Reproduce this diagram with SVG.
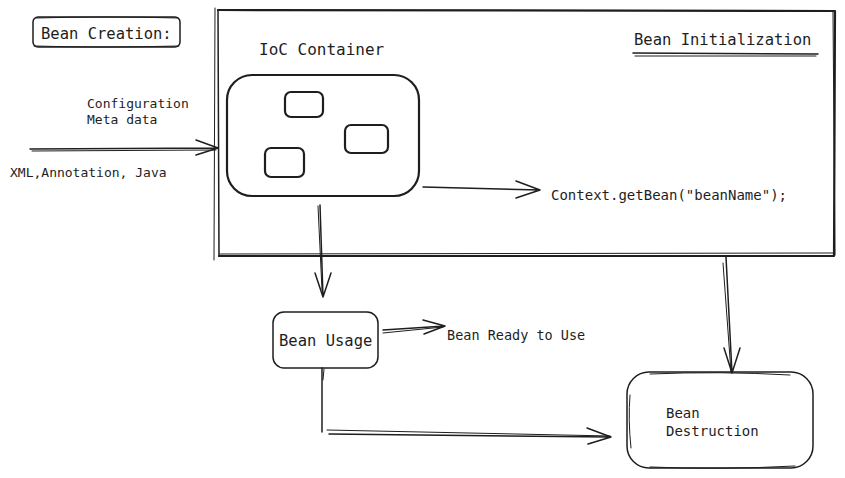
<svg xmlns="http://www.w3.org/2000/svg" width="845" height="478" viewBox="0 0 845 478">
<style>
.t{font-family:"DejaVu Sans Mono","Liberation Mono",monospace;fill:#1e1e1e}
.s{fill:none;stroke:#1e1e1e;stroke-linecap:round;stroke-linejoin:round}
.th{stroke-width:2.2}
.md{stroke-width:1.5}
.tn{stroke-width:1}
</style>
<rect width="845" height="478" fill="#ffffff"/>

<g id="bean-creation">
<rect class="s md" x="33" y="17" width="147" height="30" rx="5"/>
<path class="s tn" d="M36 18 Q105 16 178 18 M34 46 Q100 48 179 46"/>
<text class="t" x="41" y="39" font-size="15.5">Bean Creation:</text>
</g>

<g id="container">
<path class="s th" d="M218 10 L835 11 L834 256 L219 256"/>
<path class="s md" d="M218 10 L219 256"/>
<path class="s tn" d="M215 8 L214 260 M833 12 L835 255 M220 254 L834 253"/>
<text class="t" x="634" y="45" font-size="15.5">Bean Initialization</text>
<path class="s md" d="M633 53 L818 54"/>
<path class="s tn" d="M635 56 L816 56"/>
<text class="t" x="259" y="55" font-size="16">IoC Container</text>
</g>

<g id="ioc">
<rect class="s th" x="227" y="75" width="192" height="121" rx="25"/>
<rect class="s th" x="285" y="92" width="38" height="25" rx="6"/>
<rect class="s th" x="345" y="125" width="43" height="28" rx="6"/>
<rect class="s th" x="265" y="148" width="39" height="29" rx="6"/>
</g>

<g id="config">
<text class="t" x="87" y="108" font-size="13">Configuration</text>
<text class="t" x="87" y="124" font-size="13">Meta data</text>
<text class="t" x="10" y="177" font-size="13">XML,Annotation, Java</text>
</g>

<g id="context-text">
<text class="t" x="551" y="200" font-size="14">Context.getBean("beanName");</text>
</g>

<g id="bean-usage">
<rect class="s md" x="273" y="312" width="105" height="56" rx="11"/>
<text class="t" x="279" y="346" font-size="15.5">Bean Usage</text>
</g>

<g id="ready-text">
<text class="t" x="447" y="340" font-size="13.5">Bean Ready to Use</text>
</g>

<g id="bean-destruction">
<rect class="s md" x="627" y="372" width="186" height="96" rx="22"/>
<path class="s tn" d="M650 374 Q720 371 790 375 M630 395 Q628 420 631 448 M650 467 Q720 470 795 466"/>
<text class="t" x="666" y="418" font-size="14">Bean</text>
<text class="t" x="666" y="436" font-size="14">Destruction</text>
</g>

<g id="connectors">
<path class="s md" d="M30 149 L218 148 M196 140 L218 148 L196 155"/>
<path class="s tn" d="M32 151 L216 150"/>
<path class="s md" d="M423 187 L540 190 M516 181 L540 190 L516 198"/>
<path class="s md" d="M320 205 L323 297 M315 273 L323 297 L331 273"/>
<path class="s tn" d="M318 206 L322 290"/>
<path class="s md" d="M383 330 L445 326 M423 320 L445 326 L424 334"/>
<path class="s tn" d="M383 333 L443 327"/>
<path class="s md" d="M322 368 L322 432"/>
<path class="s tn" d="M324 369 L323 380"/>
<path class="s md" d="M329 434 L611 437 M587 428 L611 437 L588 444"/>
<path class="s tn" d="M327 430 L610 436"/>
<path class="s md" d="M726 257 L732 373 M724 348 L732 373 L740 348"/>
<path class="s tn" d="M723 263 L731 372"/>
</g>
</svg>
